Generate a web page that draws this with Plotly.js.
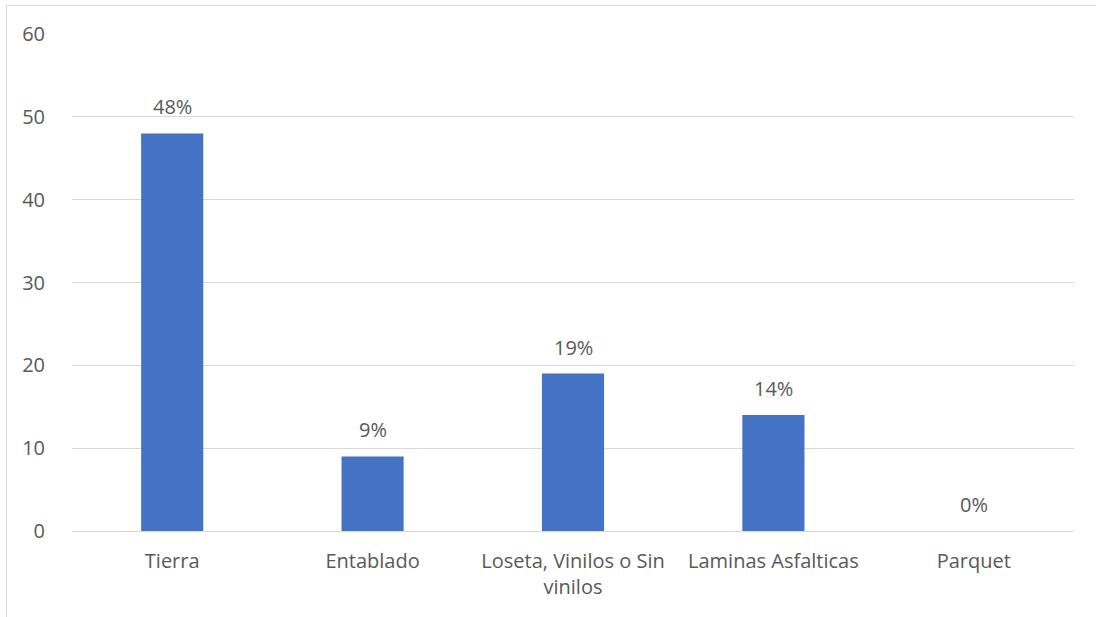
<!DOCTYPE html>
<html>
<head>
<meta charset="utf-8">
<script src="https://cdn.plot.ly/plotly-3.0.1.min.js"></script>
<style>
  html, body { margin: 0; padding: 0; background: #fff; }
  #chart { width: 1096px; height: 617px; }
  #frame { position: absolute; left: 6px; top: 5px; width: 1100px; height: 620px;
           border-left: 1px solid #D9D9D9; border-top: 1px solid #D9D9D9; pointer-events: none; }
</style>
</head>
<body>
<div id="chart"></div>
<div id="frame"></div>
<script>
const categories = ["Tierra", "Entablado", "Loseta, Vinilos o Sin<br>vinilos", "Laminas Asfalticas", "Parquet"];
const values = [48, 9, 19, 14, 0];
const valueLabels = ["48%", "9%", "19%", "14%", "0%"];
const yTicks = [0, 10, 20, 30, 40, 50, 60];

const font = "'Open Sans', sans-serif";
const textColor = "#595959";

const trace = {
  type: "bar",
  x: categories,
  y: values,
  marker: { color: "#4472C4" },
  hoverinfo: "none"
};

const annotations = categories.map((c, i) => ({
  x: c, y: values[i], xref: "x", yref: "y",
  text: valueLabels[i], showarrow: false,
  yanchor: "bottom", yshift: 11,
  font: { family: font, size: 20, color: textColor }
}));

const layout = {
  width: 1096, height: 617,
  margin: { l: 72, r: 22, t: 34, b: 86 },
  paper_bgcolor: "#fff", plot_bgcolor: "#fff",
  bargap: 0.69,
  showlegend: false,
  xaxis: {
    type: "category",
    tickfont: { family: font, size: 20, color: textColor },
    showgrid: false, zeroline: false, showline: false,
    ticks: "", ticklabelstandoff: 16
  },
  yaxis: {
    range: [0, 60],
    tickvals: yTicks,
    ticktext: yTicks.map(String),
    tickfont: { family: font, size: 20, color: textColor },
    showgrid: true, gridcolor: "#D9D9D9", gridwidth: 1,
    zeroline: true, zerolinecolor: "#D9D9D9", zerolinewidth: 1,
    showline: false, ticks: "", ticklabelstandoff: 26
  },
  annotations: annotations
};

Plotly.newPlot("chart", [trace], layout, { displayModeBar: false, staticPlot: true });
</script>
</body>
</html>
